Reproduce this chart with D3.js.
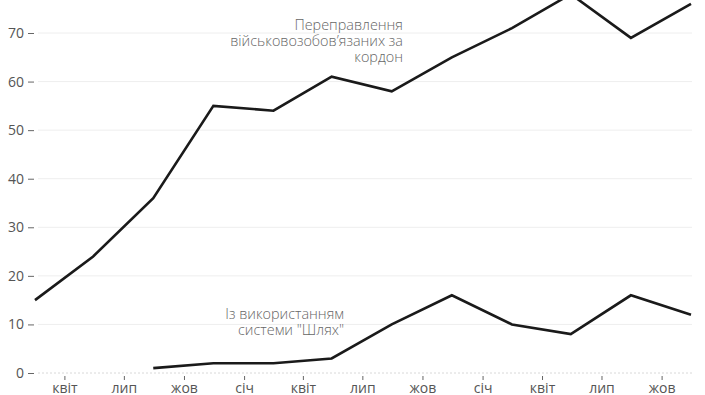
<html>
<head>
<meta charset="utf-8">
<style>
    body { margin: 0; background: #fff; }
    svg text { font-family: "Open Sans", sans-serif; fill: #555; }
    g.grid line { stroke: #eeeeee; stroke-width: 1; }
    g.grid line.zero { stroke: #d8d8d8; stroke-dasharray: 2,2; }
    g.axis path { display: none; }
    g.axis line { stroke: #666; }
    path.series { fill: none; stroke: #1a1a1a; stroke-width: 2.6; stroke-linejoin: miter; }
    text.label { font-size: 14.4px; font-weight: 300; fill: #666; }
</style>
</head>
<body>
<div id="target"></div>
<script src="https://cdnjs.cloudflare.com/ajax/libs/d3/7.8.5/d3.min.js"></script>
<script>
    // quarters (middle of each quarter)
    var quarters = ['2022-02-15', '2022-05-15', '2022-08-15', '2022-11-15',
                    '2023-02-15', '2023-05-15', '2023-08-15', '2023-11-15',
                    '2024-02-15', '2024-05-15', '2024-08-15', '2024-11-15'];
    var crossings = [15, 24, 36, 55, 54, 61, 58, 65, 71, 78, 69, 76];
    var shliakh = [null, null, 1, 2, 2, 3, 10, 16, 10, 8, 16, 12];
    var yTicks = [0, 10, 20, 30, 40, 50, 60, 70];
    var monthNames = ['січ', 'лют', 'бер', 'квіт', 'трав', 'черв', 'лип', 'серп', 'вер', 'жов', 'лист', 'груд'];
    var label1 = ['Переправлення', 'військовозобов\u2019язаних за', 'кордон'];
    var label2 = ['Із використанням', 'системи "Шлях"'];

    var width = 705, height = 395;
    var parse = d3.timeParse('%Y-%m-%d');
    var dates = quarters.map(parse);

    var svg = d3.select('#target').append('svg')
            .attr('width', width)
            .attr('height', height);

    var x = d3.scaleTime()
            .domain([dates[0], dates[dates.length - 1]])
            .range([35, 691]);
    var y = d3.scaleLinear()
            .domain([0, 70])
            .range([373, 33]);

    // horizontal gridlines
    svg.append('g').attr('class', 'grid')
            .selectAll('line')
            .data(yTicks)
            .enter()
            .append('line')
            .attr('class', function (d) { return d === 0 ? 'zero' : null; })
            .attr('x1', 38)
            .attr('x2', 692)
            .attr('y1', function (d) { return y(d); })
            .attr('y2', function (d) { return y(d); });

    // y axis
    var gy = svg.append('g').attr('class', 'axis')
            .attr('transform', 'translate(34,0)')
            .call(d3.axisLeft(y).tickValues(yTicks).tickSize(6).tickPadding(4));
    gy.selectAll('text').style('font-size', '14px').attr('fill', '#555');
    gy.selectAll('line').attr('stroke', '#555');

    // x axis
    var gx = svg.append('g').attr('class', 'axis')
            .attr('transform', 'translate(0,376)')
            .call(d3.axisBottom(x)
                    .ticks(d3.timeMonth.every(3))
                    .tickSize(4)
                    .tickPadding(3)
                    .tickFormat(function (d) { return monthNames[d.getMonth()]; }));
    gx.selectAll('text').style('font-size', '14px').attr('fill', '#555');
    gx.selectAll('line').attr('stroke', '#777');

    // lines
    var line = d3.line()
            .defined(function (d) { return d.v != null; })
            .x(function (d) { return x(d.date); })
            .y(function (d) { return y(d.v); });

    [crossings, shliakh].forEach(function (vals) {
        svg.append('path')
                .datum(vals.map(function (v, i) { return {date: dates[i], v: v}; }))
                .attr('class', 'series')
                .attr('d', line);
    });

    // labels
    var addLabel = function (lines, xr, y0, dy) {
        svg.append('text').attr('class', 'label')
                .attr('text-anchor', 'end')
                .selectAll('tspan')
                .data(lines)
                .enter()
                .append('tspan')
                .attr('x', xr)
                .attr('y', function (d, i) { return y0 + i * dy; })
                .text(function (d) { return d; });
    };
    addLabel(label1, 403, 30, 16);
    addLabel(label2, 344, 319, 16);
</script>
</body>
</html>
